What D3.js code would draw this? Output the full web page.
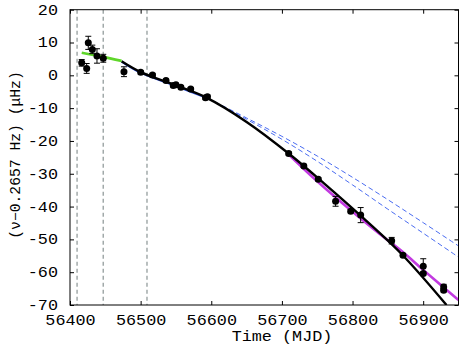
<!doctype html>
<html>
  <head>
    <meta charset="utf-8">
    <title>Frequency evolution</title>
    <script src="https://cdnjs.cloudflare.com/ajax/libs/d3/7.8.5/d3.min.js"></script>
    <style>
      body { margin: 0; background: #fff; }
      text { font-family: "Liberation Mono", "DejaVu Sans Mono", monospace; font-size: 14px; fill: #000; }
    </style>
  </head>
  <body>
    <div id="chart"></div>
    <script>
      // observed frequencies (MJD, offset in µHz, 1-sigma error)
      const obsMjd = [56416.6, 56423.6, 56425.9, 56431.6, 56438.2, 56447.1, 56476.4, 56500.1,
        56516.8, 56535.9, 56546.2, 56550.0, 56557.0, 56570.9, 56591.8, 56594.6,
        56709.6, 56731.0, 56751.5, 56776.0, 56797.4, 56811.5, 56855.4, 56871.4,
        56900.1, 56900.1, 56929.0, 56929.0];
      const obsNu = [3.8, 2.1, 9.9, 7.9, 5.9, 5.2, 1.1, 0.9,
        0.1, -1.6, -3.1, -2.9, -3.6, -4.2, -6.8, -6.5,
        -23.8, -27.6, -31.7, -38.4, -41.4, -42.6, -50.4, -54.8,
        -58.2, -60.4, -64.5, -65.5];
      const obsErr = [1.0, 1.5, 2.0, 1.3, 2.2, 1.2, 1.5, 0.5,
        0.5, 0.5, 0.5, 0.5, 0.5, 0.5, 0.5, 0.5,
        0.5, 0.5, 0.5, 1.5, 0.5, 2.3, 1.0, 0.5,
        2.3, 0.5, 0.8, 0.5];

      // model curves
      const blackMjd = [56473, 56500, 56550, 56593, 56650, 56710, 56760, 56811, 56870, 56933];
      const blackNu = [4.3, 1.0, -3.1, -6.8, -14.2, -23.9, -33.0, -42.7, -54.6, -70.0];
      const greenMjd = [56416.6, 56445, 56473];
      const greenNu = [6.9, 5.7, 4.4];
      const blueMjd = [56473, 56500, 56550, 56595];
      const blueNu = [4.2, 0.8, -3.3, -7.0];
      const dashMjd = [56595, 56650, 56700, 56750, 56800, 56850, 56900, 56950];
      const dashUpNu = [-7.0, -13.0, -18.6, -24.6, -31.1, -37.9, -44.9, -52.0];
      const dashLoNu = [-7.0, -13.4, -19.5, -26.2, -33.4, -40.8, -48.1, -55.4];
      const magMjd = [56710, 56750, 56800, 56838, 56872, 56900, 56950];
      const magNu = [-24.2, -32.3, -41.6, -48.3, -54.0, -59.3, -68.5];

      // vertical markers
      const markMjd = [56410, 56447, 56509];

      const xTicks = [56400, 56500, 56600, 56700, 56800, 56900];
      const yTicks = [20, 10, 0, -10, -20, -30, -40, -50, -60, -70];

      const W = 463, H = 348;
      const mL = 70, mR = 458.5, mT = 9.7, mB = 305;

      const x = d3.scaleLinear().domain([56400, 56950]).range([mL, mR]);
      const y = d3.scaleLinear().domain([-70, 20]).range([mB, mT]);

      const svg = d3.select('#chart').append('svg')
        .attr('width', W).attr('height', H);

      svg.append('defs').append('clipPath').attr('id', 'clip')
        .append('rect').attr('x', mL).attr('y', mT)
        .attr('width', mR - mL).attr('height', mB - mT);

      const plot = svg.append('g').attr('clip-path', 'url(#clip)');

      // dashed vertical markers
      plot.selectAll('line.mark').data(markMjd).join('line')
        .attr('class', 'mark')
        .attr('x1', d => x(d)).attr('x2', d => x(d))
        .attr('y1', mT).attr('y2', mB)
        .attr('stroke', '#8a9494').attr('stroke-width', 1.2)
        .attr('stroke-dasharray', '4,3');

      const line = (xs, ys) => d3.line().curve(d3.curveCatmullRom)
        .x((d, i) => x(xs[i])).y(d => y(d))(ys);

      plot.append('path').attr('d', line(dashMjd, dashUpNu))
        .attr('fill', 'none').attr('stroke', '#4a6cf0').attr('stroke-width', 1)
        .attr('stroke-dasharray', '5,3');
      plot.append('path').attr('d', line(dashMjd, dashLoNu))
        .attr('fill', 'none').attr('stroke', '#4a6cf0').attr('stroke-width', 1)
        .attr('stroke-dasharray', '5,3');
      plot.append('path').attr('d', line(blueMjd, blueNu))
        .attr('fill', 'none').attr('stroke', '#3a5ce8').attr('stroke-width', 2);
      plot.append('path').attr('d', line(magMjd, magNu))
        .attr('fill', 'none').attr('stroke', '#c23ae0').attr('stroke-width', 2.6);
      plot.append('path').attr('d', line(blackMjd, blackNu))
        .attr('fill', 'none').attr('stroke', '#000').attr('stroke-width', 2.4);
      plot.append('path').attr('d', line(greenMjd, greenNu))
        .attr('fill', 'none').attr('stroke', '#5fd62a').attr('stroke-width', 2.6);

      // error bars and points
      const pts = plot.selectAll('g.pt').data(obsMjd).join('g').attr('class', 'pt');
      pts.append('line')
        .attr('x1', d => x(d)).attr('x2', d => x(d))
        .attr('y1', (d, i) => y(obsNu[i] - obsErr[i]))
        .attr('y2', (d, i) => y(obsNu[i] + obsErr[i]))
        .attr('stroke', '#000').attr('stroke-width', 1);
      pts.append('line')
        .attr('x1', d => x(d) - 3).attr('x2', d => x(d) + 3)
        .attr('y1', (d, i) => y(obsNu[i] + obsErr[i]))
        .attr('y2', (d, i) => y(obsNu[i] + obsErr[i]))
        .attr('stroke', '#000').attr('stroke-width', 1);
      pts.append('line')
        .attr('x1', d => x(d) - 3).attr('x2', d => x(d) + 3)
        .attr('y1', (d, i) => y(obsNu[i] - obsErr[i]))
        .attr('y2', (d, i) => y(obsNu[i] - obsErr[i]))
        .attr('stroke', '#000').attr('stroke-width', 1);
      pts.append('circle')
        .attr('cx', d => x(d)).attr('cy', (d, i) => y(obsNu[i]))
        .attr('r', 3.5).attr('fill', '#000');

      // axes, ticks pointing inward
      const sx = 'scale(1.2,1)';
      svg.append('g').attr('transform', `translate(0,${mB})`)
        .call(d3.axisBottom(x).tickValues(xTicks).tickSize(-4).tickPadding(10).tickFormat(d3.format('d')))
        .call(g => g.select('.domain').remove())
        .call(g => g.selectAll('text').attr('transform', sx).style('font-size', '14px'));
      svg.append('g').attr('transform', `translate(0,${mT})`)
        .call(d3.axisTop(x).tickValues(xTicks).tickSize(-4).tickFormat(''))
        .call(g => g.select('.domain').remove());
      svg.append('g').attr('transform', `translate(${mL},0)`)
        .call(d3.axisLeft(y).tickValues(yTicks).tickSize(-4).tickPadding(10).tickFormat(d => d3.format('d')(d).replace('−', '-')))
        .call(g => g.select('.domain').remove())
        .call(g => g.selectAll('text').attr('transform', sx).style('font-size', '14px'));
      svg.append('g').attr('transform', `translate(${mR},0)`)
        .call(d3.axisRight(y).tickValues(yTicks).tickSize(-4).tickFormat(''))
        .call(g => g.select('.domain').remove());

      svg.append('rect')
        .attr('x', mL).attr('y', mT)
        .attr('width', mR - mL).attr('height', mB - mT)
        .attr('fill', 'none').attr('stroke', '#000').attr('stroke-width', 1);

      svg.append('text')
        .attr('transform', `translate(282,341) scale(1.2,1)`)
        .attr('text-anchor', 'middle')
        .text('Time (MJD)');

      svg.append('text')
        .attr('transform', `translate(20,155) rotate(-90) scale(1.05,1)`)
        .attr('text-anchor', 'middle')
        .text('(ν−0.2657 Hz) (μHz)');
    </script>
  </body>
</html>
